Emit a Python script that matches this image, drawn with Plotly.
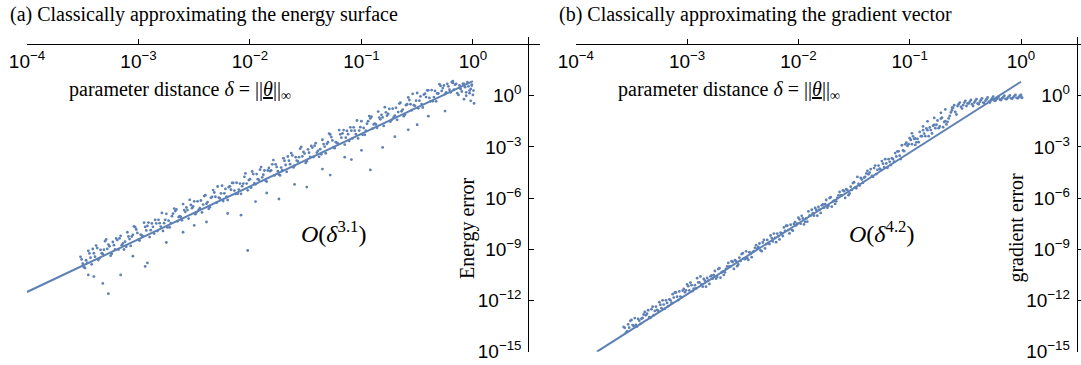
import plotly.graph_objects as go

W, H = 1081, 365
BLUE = "#5E81B5"

# ---------------- data (log10 exponents) ----------------
energy_delta_exp = [
    -3.52, -3.50, -3.48, -3.47, -3.45, -3.43, -3.42, -3.40, -3.38, -3.37, -3.35, -3.33,
    -3.32, -3.30, -3.28, -3.27, -3.25, -3.23, -3.22, -3.20, -3.18, -3.17, -3.15, -3.13,
    -3.12, -3.10, -3.08, -3.07, -3.05, -3.03, -3.02, -3.00, -2.98, -2.97, -2.95, -2.93,
    -2.92, -2.90, -2.88, -2.87, -2.85, -2.83, -2.82, -2.80, -2.78, -2.77, -2.75, -2.73,
    -2.72, -2.70, -2.68, -2.67, -2.65, -2.63, -2.62, -2.60, -2.58, -2.57, -2.55, -2.53,
    -2.52, -2.50, -2.48, -2.47, -2.45, -2.43, -2.42, -2.40, -2.38, -2.37, -2.35, -2.33,
    -2.32, -2.30, -2.28, -2.27, -2.25, -2.23, -2.22, -2.20, -2.18, -2.17, -2.15, -2.13,
    -2.12, -2.10, -2.08, -2.07, -2.05, -2.03, -2.02, -2.00, -1.98, -1.97, -1.95, -1.93,
    -1.92, -1.90, -1.88, -1.87, -1.85, -1.83, -1.82, -1.80, -1.78, -1.77, -1.75, -1.73,
    -1.72, -1.70, -1.68, -1.67, -1.65, -1.63, -1.62, -1.60, -1.58, -1.57, -1.55, -1.53,
    -1.52, -1.50, -1.48, -1.47, -1.45, -1.43, -1.42, -1.40, -1.38, -1.37, -1.35, -1.33,
    -1.32, -1.30, -1.28, -1.27, -1.25, -1.23, -1.22, -1.20, -1.18, -1.17, -1.15, -1.13,
    -1.12, -1.10, -1.08, -1.07, -1.05, -1.03, -1.02, -1.00, -0.98, -0.97, -0.95, -0.93,
    -0.92, -0.90, -0.88, -0.87, -0.85, -0.83, -0.82, -0.80, -0.78, -0.77, -0.75, -0.73,
    -0.72, -0.70, -0.68, -0.67, -0.65, -0.63, -0.62, -0.60, -0.58, -0.57, -0.55, -0.53,
    -0.52, -0.50, -0.48, -0.47, -0.45, -0.43, -0.42, -0.40, -0.38, -0.37, -0.35, -0.33,
    -0.32, -0.30, -0.28, -0.27, -0.25, -0.23, -0.22, -0.20, -0.18, -0.17, -0.15, -0.13,
    -0.12, -0.10, -0.08, -0.07, -0.05, -0.03, -0.02, 0.00, 0.01,
]
energy_err_exp = [
    -9.44, -9.84, -10.09, -9.64, -9.09, -9.49, -9.88, -9.23, -8.78, -8.93, -9.53, -9.23,
    -9.27, -8.52, -8.97, -8.72, -9.37, -8.57, -8.76, -8.36, -9.01, -8.36, -8.76, -9.01,
    -8.55, -8.00, -8.40, -8.80, -8.15, -7.70, -7.84, -8.44, -8.14, -8.19, -7.44, -7.89,
    -7.63, -8.28, -7.48, -7.68, -7.28, -7.93, -7.27, -7.67, -7.92, -7.47, -6.92, -7.32,
    -7.71, -7.06, -6.61, -6.76, -7.36, -7.06, -7.10, -6.35, -6.80, -6.55, -7.20, -6.40,
    -6.59, -6.19, -6.84, -6.19, -6.59, -6.84, -6.38, -5.83, -6.23, -6.63, -5.98, -5.53,
    -5.67, -6.27, -5.97, -6.02, -5.27, -5.72, -5.46, -6.11, -5.31, -5.51, -5.11, -5.76,
    -5.10, -5.50, -5.75, -5.30, -4.75, -5.15, -5.54, -4.89, -4.44, -4.59, -5.19, -4.89,
    -4.93, -4.18, -4.63, -4.38, -5.03, -4.23, -4.42, -4.02, -4.67, -4.02, -4.42, -4.67,
    -4.21, -3.66, -4.06, -4.46, -3.81, -3.36, -3.50, -4.10, -3.80, -3.85, -3.10, -3.55,
    -3.29, -3.94, -3.14, -3.34, -2.94, -3.59, -2.93, -3.33, -3.58, -3.13, -2.58, -2.98,
    -3.37, -2.72, -2.27, -2.42, -3.02, -2.72, -2.76, -2.01, -2.46, -2.21, -2.86, -2.06,
    -2.25, -1.85, -2.50, -1.85, -2.25, -2.50, -2.04, -1.49, -1.89, -2.29, -1.64, -1.19,
    -1.33, -1.93, -1.63, -1.68, -0.93, -1.38, -1.12, -1.77, -0.97, -1.17, -0.77, -1.42,
    -0.76, -1.16, -1.41, -0.96, -0.41, -0.81, -1.20, -0.55, -0.10, -0.25, -0.85, -0.55,
    -0.59, 0.16, -0.29, -0.04, -0.69, 0.12, -0.08, 0.32, -0.33, 0.33, -0.08, -0.33,
    0.13, 0.68, 0.28, 0.45, 0.10, 0.70, 0.55, 0.20, 0.75, 0.35, 0.70, 0.05,
    0.60, 0.25, -0.20, 0.50, 0.80, 0.15, 0.40, 0.05, -0.45,
]
energy_delta_exp_2 = [
    -3.51, -3.49, -3.46, -3.44, -3.41, -3.39, -3.36, -3.34, -3.31, -3.29, -3.26, -3.24,
    -3.21, -3.19, -3.16, -3.14, -3.11, -3.09, -3.06, -3.04, -3.01, -2.99, -2.96, -2.94,
    -2.91, -2.89, -2.86, -2.84, -2.81, -2.79, -2.76, -2.74, -2.71, -2.69, -2.66, -2.64,
    -2.61, -2.59, -2.56, -2.54, -2.51, -2.49, -2.46, -2.44, -2.41, -2.39, -2.36, -2.34,
    -2.31, -2.29, -2.26, -2.24, -2.21, -2.19, -2.16, -2.14, -2.11, -2.09, -2.06, -2.04,
    -2.01, -1.99, -1.96, -1.94, -1.91, -1.89, -1.86, -1.84, -1.81, -1.79, -1.76, -1.74,
    -1.71, -1.69, -1.66, -1.64, -1.61, -1.59, -1.56, -1.54, -1.51, -1.49, -1.46, -1.44,
    -1.41, -1.39, -1.36, -1.34, -1.31, -1.29, -1.26, -1.24, -1.21, -1.19, -1.16, -1.14,
    -1.11, -1.09, -1.06, -1.04, -1.01, -0.99, -0.96, -0.94, -0.91, -0.89, -0.86, -0.84,
    -0.81, -0.79, -0.76, -0.74, -0.71, -0.69, -0.66, -0.64, -0.61, -0.59, -0.56, -0.54,
    -0.51, -0.49, -0.46, -0.44, -0.41, -0.39, -0.36, -0.34, -0.31, -0.29, -0.26, -0.24,
    -0.21, -0.19, -0.16, -0.14, -0.11, -0.09, -0.06, -0.04, -0.01, 0.005,
]
energy_err_exp_2 = [
    -9.59, -10.04, -9.79, -9.24, -8.98, -9.43, -9.63, -9.03, -9.02, -8.42, -8.82, -9.27,
    -9.01, -8.46, -8.21, -8.66, -8.85, -8.25, -8.25, -7.65, -8.04, -8.49, -8.24, -7.69,
    -7.43, -7.88, -8.08, -7.48, -7.47, -6.87, -7.27, -7.72, -7.46, -6.91, -6.66, -7.11,
    -7.30, -6.70, -6.70, -6.10, -6.49, -6.94, -6.69, -6.14, -5.88, -6.33, -6.53, -5.93,
    -5.92, -5.32, -5.72, -6.17, -5.91, -5.36, -5.11, -5.56, -5.75, -5.15, -5.15, -4.55,
    -4.94, -5.39, -5.14, -4.59, -4.33, -4.78, -4.98, -4.38, -4.37, -3.77, -4.17, -4.62,
    -4.36, -3.81, -3.56, -4.01, -4.20, -3.60, -3.60, -3.00, -3.39, -3.84, -3.59, -3.04,
    -2.78, -3.23, -3.43, -2.83, -2.82, -2.22, -2.62, -3.07, -2.81, -2.26, -2.01, -2.46,
    -2.65, -2.05, -2.05, -1.45, -1.84, -2.29, -2.04, -1.49, -1.23, -1.68, -1.88, -1.28,
    -1.27, -0.67, -1.07, -1.52, -1.26, -0.71, -0.46, -0.91, -1.10, -0.50, -0.50, 0.11,
    -0.29, -0.74, -0.49, 0.07, 0.32, -0.13, -0.33, 0.28, 0.13, 0.58, 0.60, 0.20,
    0.35, 0.80, 0.65, 0.15, 0.40, 0.70, 0.20, 0.55, 0.65, 0.30,
]
energy_extra_delta_exp = [
    -0.08, -0.03, -0.12, -0.18, -0.02, -0.06, -0.01,
    -3.32, -3.27, -3.16, -2.94, -2.92, -3.40, -3.45, -2.39, -2.08, -2.02,
    -1.74, -1.49, -1.28, -0.92, -0.81, -0.58, -1.09, -2.60, -2.20, -1.95,
    -1.60, -1.35, -1.15, -0.70, -0.40, -0.25, -2.75, -3.05, -2.50, -1.85,
    -1.00, -0.50,
]
energy_extra_err_exp = [
    0.70, 0.30, 0.45, 0.85, -0.30, 0.00, 0.60,
    -11.0, -11.6, -10.5, -10.0, -9.8, -10.6, -10.5, -7.4, -7.0, -9.07,
    -6.05, -5.35, -4.65, -4.35, -3.03, -2.0, -3.74, -8.0, -6.9, -6.2,
    -5.2, -4.3, -3.6, -2.4, -1.2, -0.9, -8.6, -9.4, -7.6, -5.7,
    -3.2, -1.7,
]
energy_fit_delta_exp = [-4.0, 0.0]
energy_fit_err_exp = [-11.5, 0.86]

grad_delta_exp = [
    -3.57, -3.55, -3.53, -3.52, -3.50, -3.48, -3.47, -3.45, -3.43, -3.42, -3.40, -3.38,
    -3.37, -3.35, -3.33, -3.32, -3.30, -3.28, -3.27, -3.25, -3.23, -3.22, -3.20, -3.18,
    -3.17, -3.15, -3.13, -3.12, -3.10, -3.08, -3.07, -3.05, -3.03, -3.02, -3.00, -2.98,
    -2.97, -2.95, -2.93, -2.92, -2.90, -2.88, -2.87, -2.85, -2.83, -2.82, -2.80, -2.78,
    -2.77, -2.75, -2.73, -2.72, -2.70, -2.68, -2.67, -2.65, -2.63, -2.62, -2.60, -2.58,
    -2.57, -2.55, -2.53, -2.52, -2.50, -2.48, -2.47, -2.45, -2.43, -2.42, -2.40, -2.38,
    -2.37, -2.35, -2.33, -2.32, -2.30, -2.28, -2.27, -2.25, -2.23, -2.22, -2.20, -2.18,
    -2.17, -2.15, -2.13, -2.12, -2.10, -2.08, -2.07, -2.05, -2.03, -2.02, -2.00, -1.98,
    -1.97, -1.95, -1.93, -1.92, -1.90, -1.88, -1.87, -1.85, -1.83, -1.82, -1.80, -1.78,
    -1.77, -1.75, -1.73, -1.72, -1.70, -1.68, -1.67, -1.65, -1.63, -1.62, -1.60, -1.58,
    -1.57, -1.55, -1.53, -1.52, -1.50, -1.48, -1.47, -1.45, -1.43, -1.42, -1.40, -1.38,
    -1.37, -1.35, -1.33, -1.32, -1.30, -1.28, -1.27, -1.25, -1.23, -1.22, -1.20, -1.18,
    -1.17, -1.15, -1.13, -1.12, -1.10, -1.08, -1.07, -1.05, -1.03, -1.02, -1.00, -0.98,
    -0.97, -0.95, -0.93, -0.92, -0.90, -0.88, -0.87, -0.85, -0.83, -0.82, -0.80, -0.78,
    -0.77, -0.75, -0.73, -0.72, -0.70, -0.68, -0.67, -0.65, -0.63, -0.62, -0.60, -0.58,
    -0.57, -0.55, -0.53, -0.52, -0.50, -0.48, -0.47, -0.45, -0.43, -0.42, -0.40, -0.38,
    -0.37, -0.35, -0.33, -0.32, -0.30, -0.28, -0.27, -0.25, -0.23, -0.22, -0.20, -0.18,
    -0.17, -0.15, -0.13, -0.12, -0.10, -0.08, -0.07, -0.05, -0.03, -0.02, 0.00, 0.01,
]
grad_err_exp = [
    -13.55, -13.90, -13.40, -13.59, -13.14, -13.49, -13.03, -13.53, -13.18, -13.37, -13.02, -12.67,
    -12.87, -12.57, -13.02, -12.51, -12.86, -12.36, -12.55, -12.10, -12.45, -11.99, -12.49, -12.14,
    -12.33, -11.98, -11.63, -11.83, -11.53, -11.98, -11.47, -11.82, -11.32, -11.51, -11.06, -11.41,
    -10.95, -11.45, -11.10, -11.29, -10.94, -10.59, -11.04, -10.74, -11.19, -10.68, -11.03, -10.53,
    -10.72, -10.27, -10.62, -10.16, -10.66, -10.31, -10.50, -10.15, -9.80, -10.00, -9.70, -10.15,
    -9.64, -9.99, -9.49, -9.68, -9.23, -9.58, -9.12, -9.62, -9.27, -9.46, -9.11, -8.76,
    -8.96, -8.66, -9.11, -8.60, -8.95, -8.45, -8.64, -8.19, -8.54, -8.08, -8.58, -8.23,
    -8.42, -8.07, -7.72, -7.92, -7.62, -8.07, -7.56, -7.91, -7.41, -7.60, -7.15, -7.50,
    -7.04, -7.54, -7.19, -7.38, -7.03, -6.68, -6.88, -6.58, -7.03, -6.52, -6.87, -6.37,
    -6.56, -6.11, -6.46, -6.00, -6.50, -6.15, -6.34, -5.99, -5.64, -5.84, -5.54, -5.99,
    -5.48, -5.83, -5.33, -5.52, -5.07, -5.42, -4.76, -5.26, -4.91, -5.10, -4.75, -4.40,
    -4.60, -4.30, -4.75, -4.24, -4.59, -4.09, -4.28, -3.83, -4.18, -3.72, -4.22, -3.87,
    -4.06, -3.71, -3.36, -3.56, -3.26, -3.71, -2.90, -3.25, -2.75, -2.94, -2.49, -2.84,
    -2.38, -2.88, -2.53, -2.72, -2.37, -2.02, -2.22, -1.92, -2.37, -1.86, -2.21, -1.71,
    -1.90, -1.45, -1.80, -1.34, -1.84, -1.49, -1.68, -1.33, -0.98, -0.85, -0.55, -1.10,
    -0.60, -0.40, -0.75, -0.55, -0.30, -0.45, -0.45, -0.25, -0.60, -0.40, -0.20, -0.50,
    -0.35, -0.15, -0.45, -0.30, -0.10, -0.40, -0.25, -0.05, -0.30, -0.20, -0.05, -0.25,
    -0.15, 0.00, -0.20, -0.12, 0.02, -0.18, -0.10, 0.05, -0.15, -0.08, 0.05, -0.12,
]
grad_delta_exp_2 = [
    -3.56, -3.54, -3.51, -3.49, -3.46, -3.44, -3.41, -3.39, -3.36, -3.34, -3.31, -3.29,
    -3.26, -3.24, -3.21, -3.19, -3.16, -3.14, -3.11, -3.09, -3.06, -3.04, -3.01, -2.99,
    -2.96, -2.94, -2.91, -2.89, -2.86, -2.84, -2.81, -2.79, -2.76, -2.74, -2.71, -2.69,
    -2.66, -2.64, -2.61, -2.59, -2.56, -2.54, -2.51, -2.49, -2.46, -2.44, -2.41, -2.39,
    -2.36, -2.34, -2.31, -2.29, -2.26, -2.24, -2.21, -2.19, -2.16, -2.14, -2.11, -2.09,
    -2.06, -2.04, -2.01, -1.99, -1.96, -1.94, -1.91, -1.89, -1.86, -1.84, -1.81, -1.79,
    -1.76, -1.74, -1.71, -1.69, -1.66, -1.64, -1.61, -1.59, -1.56, -1.54, -1.51, -1.49,
    -1.46, -1.44, -1.41, -1.39, -1.36, -1.34, -1.31, -1.29, -1.26, -1.24, -1.21, -1.19,
    -1.16, -1.14, -1.11, -1.09, -1.06, -1.04, -1.01, -0.99, -0.96, -0.94, -0.91, -0.89,
    -0.86, -0.84, -0.81, -0.79, -0.76, -0.74, -0.71, -0.69, -0.66, -0.64, -0.61, -0.59,
    -0.56, -0.54, -0.51, -0.49, -0.46, -0.44, -0.41, -0.39, -0.36, -0.34, -0.31, -0.29,
    -0.26, -0.24, -0.21, -0.19, -0.16, -0.14, -0.11, -0.09, -0.06, -0.04, -0.01, 0.005,
]
grad_err_exp_2 = [
    -13.60, -13.80, -13.19, -13.44, -13.43, -13.08, -13.07, -12.82, -12.77, -12.97, -12.36, -12.61,
    -12.60, -12.25, -12.24, -11.99, -11.93, -12.13, -11.53, -11.78, -11.77, -11.42, -11.41, -11.16,
    -11.10, -11.30, -10.69, -10.94, -11.19, -10.84, -10.83, -10.58, -10.52, -10.72, -10.11, -10.36,
    -10.35, -10.00, -10.00, -9.75, -9.69, -9.89, -9.28, -9.53, -9.52, -9.17, -9.16, -8.91,
    -8.86, -9.06, -8.45, -8.70, -8.69, -8.34, -8.33, -8.08, -8.02, -8.22, -7.62, -7.87,
    -7.86, -7.51, -7.50, -7.25, -7.19, -7.39, -6.78, -7.03, -7.03, -6.68, -6.67, -6.42,
    -6.36, -6.56, -5.95, -6.20, -6.19, -5.84, -5.84, -5.59, -5.53, -5.73, -5.12, -5.37,
    -5.16, -4.81, -4.80, -4.55, -4.50, -4.70, -4.09, -4.34, -4.33, -3.98, -3.97, -3.72,
    -3.66, -3.86, -3.26, -3.51, -3.20, -2.85, -2.84, -2.59, -2.53, -2.73, -2.12, -2.37,
    -2.37, -2.02, -2.01, -1.76, -1.70, -1.90, -1.29, -1.54, -1.53, -1.18, -0.70, -0.95,
    -0.50, -0.65, -0.40, -0.60, -0.35, -0.50, -0.30, -0.45, -0.25, -0.40, -0.20, -0.35,
    -0.15, -0.28, -0.12, -0.22, -0.08, -0.18, -0.05, -0.15, -0.02, -0.12, 0.00, -0.10,
]
grad_extra_delta_exp = [-0.98, -0.88, -0.78, -0.72, -0.68, -0.62, -0.84, -0.95]
grad_extra_err_exp = [-2.2, -1.8, -1.3, -1.0, -0.8, -0.7, -1.5, -2.5]
grad_fit_delta_exp = [-3.81, 0.0]
grad_fit_err_exp = [-15.0, 0.82]

x_tick_exp = [-4, -3, -2, -1, 0]
y_tick_exp = [0, -3, -6, -9, -12, -15]

panel_titles = ["(a) Classically approximating the energy surface",
                "(b) Classically approximating the gradient vector"]
y_titles = ["Energy error", "gradient error"]
x_title = "parameter distance <i>δ</i> = ||<u><i>θ</i></u>||<sub>∞</sub>"
fit_labels = ["<i>O</i>(<i>δ</i><sup>3.1</sup>)", "<i>O</i>(<i>δ</i><sup>4.2</sup>)"]


def p10(vals):
    return [10.0 ** v for v in vals]


def sup_label(e):
    s = str(e).replace("-", "\u2212")
    return "10<sup>" + s + "</sup>"


def pxx(v):
    return v / W


def pxy(v):
    return 1 - v / H


fig = go.Figure()
fig.add_trace(go.Scatter(
    x=p10(energy_delta_exp + energy_delta_exp_2 + energy_extra_delta_exp),
    y=p10(energy_err_exp + energy_err_exp_2 + energy_extra_err_exp),
    mode="markers", marker=dict(color=BLUE, size=2.8, line=dict(width=0)),
    xaxis="x", yaxis="y", showlegend=False))
fig.add_trace(go.Scatter(
    x=p10(energy_fit_delta_exp), y=p10(energy_fit_err_exp), mode="lines",
    line=dict(color=BLUE, width=2), xaxis="x", yaxis="y", showlegend=False))
fig.add_trace(go.Scatter(
    x=p10(grad_delta_exp + grad_delta_exp_2 + grad_extra_delta_exp),
    y=p10(grad_err_exp + grad_err_exp_2 + grad_extra_err_exp),
    mode="markers", marker=dict(color=BLUE, size=2.8, line=dict(width=0)),
    xaxis="x2", yaxis="y2", showlegend=False))
fig.add_trace(go.Scatter(
    x=p10(grad_fit_delta_exp), y=p10(grad_fit_err_exp), mode="lines",
    line=dict(color=BLUE, width=2), xaxis="x2", yaxis="y2", showlegend=False))

tick_font = dict(family="Liberation Sans, Arial, sans-serif", size=19, color="black")
ydom = [pxy(351.7), pxy(36.7)]


def xaxis_cfg(left_px, right_px, hi):
    return dict(type="log", range=[-4, hi], domain=[pxx(left_px), pxx(right_px)],
                anchor="free", position=pxy(44.3), side="bottom",
                showline=True, linecolor="black", linewidth=1,
                ticks="inside", ticklen=5, tickwidth=1, tickcolor="black",
                ticklabelstandoff=0,
                tickvals=p10(x_tick_exp), ticktext=[sup_label(e) for e in x_tick_exp],
                tickfont=tick_font, showgrid=False, zeroline=False)


def yaxis_cfg(pos_px):
    return dict(type="log", range=[-15, 3.46], domain=ydom,
                anchor="free", position=pxx(pos_px), side="left",
                showline=True, linecolor="black", linewidth=1,
                ticks="inside", ticklen=5, tickwidth=1, tickcolor="black",
                ticklabelstandoff=3,
                tickvals=p10(y_tick_exp), ticktext=[sup_label(e) for e in y_tick_exp],
                tickfont=tick_font, showgrid=False, zeroline=False)


serif = "Liberation Serif, Times New Roman, serif"
annotations = []
for k, off in enumerate([0, 548.6]):
    annotations.append(dict(text=panel_titles[k], x=pxx(8 + off), y=pxy(15), xref="paper",
                            yref="paper", xanchor="left", yanchor="middle", showarrow=False,
                            font=dict(family=serif, size=20, color="black")))
    annotations.append(dict(text=x_title, x=pxx(180 + off), y=pxy(90), xref="paper",
                            yref="paper", xanchor="center", yanchor="middle", showarrow=False,
                            font=dict(family=serif, size=20, color="black")))
    annotations.append(dict(text=y_titles[k], x=pxx(467 + off), y=pxy(228), xref="paper",
                            yref="paper", xanchor="center", yanchor="middle", showarrow=False,
                            textangle=-90, font=dict(family=serif, size=20, color="black")))
    annotations.append(dict(text=fit_labels[k], x=pxx(333 + off), y=pxy(232), xref="paper",
                            yref="paper", xanchor="center", yanchor="middle", showarrow=False,
                            font=dict(family=serif, size=24, color="black")))

fig.update_layout(
    width=W, height=H, margin=dict(l=0, r=0, t=0, b=0, autoexpand=False),
    paper_bgcolor="white", plot_bgcolor="white",
    xaxis=xaxis_cfg(27, 539.8, 0.6),
    yaxis=yaxis_cfg(528.3),
    xaxis2=xaxis_cfg(575.8, 1081, 0.539),
    yaxis2=yaxis_cfg(1076.7),
    annotations=annotations,
)
fig.write_html("out.html", config={"displayModeBar": False},
               post_script="document.body.style.margin='0px';")
